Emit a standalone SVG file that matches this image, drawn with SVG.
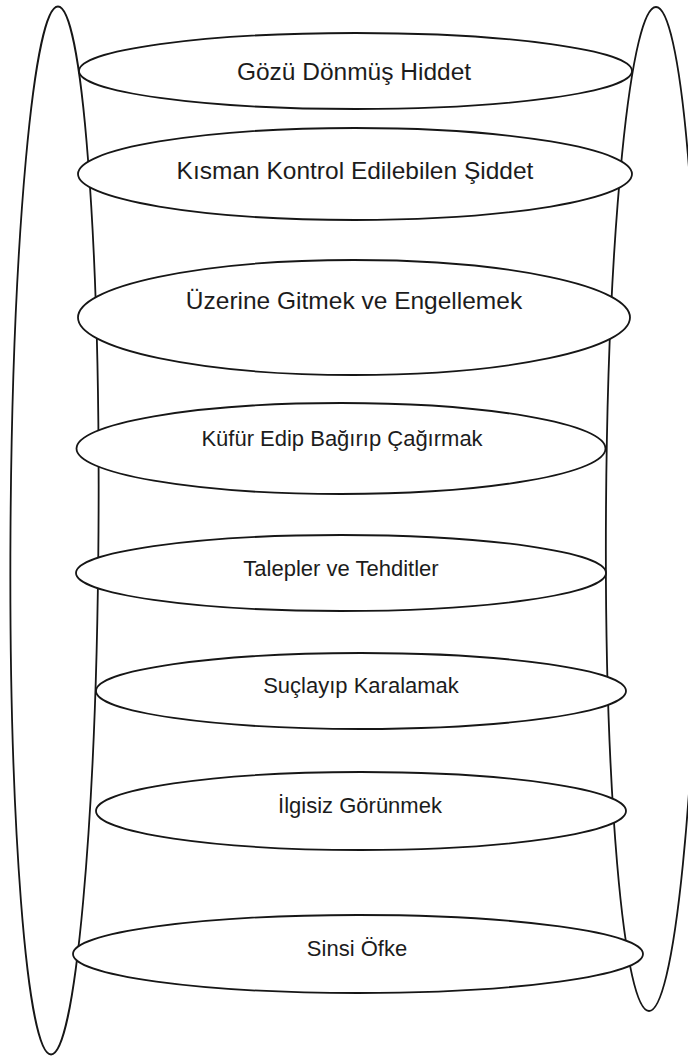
<svg xmlns="http://www.w3.org/2000/svg" width="688" height="1056" viewBox="0 0 688 1056">
  <style>
    .frame { fill: none; stroke: #161616; stroke-width: 1.8; }
    .node ellipse { fill: #ffffff; stroke: #161616; stroke-width: 1.8; }
    .node text { font-family: "Liberation Sans", Arial, Helvetica, sans-serif; fill: #1c1c1c; text-anchor: middle; }
    .big { font-size: 24.5px; }
    .small { font-size: 22px; }
  </style>
  <rect x="0" y="0" width="688" height="1056" fill="#ffffff"/>
  <g id="side-left">
    <ellipse class="frame" cx="54.5" cy="530.5" rx="44" ry="524" transform="rotate(0.38 54.5 530.5)"/>
  </g>
  <g id="side-right">
    <ellipse class="frame" cx="652.5" cy="509" rx="46.5" ry="502" transform="rotate(0.4 652.5 509)"/>
  </g>
  <g id="connectors"></g>
  <g id="n1" class="node">
    <ellipse cx="355.5" cy="71" rx="276.5" ry="38"/>
    <text class="big" x="354" y="80">Gözü Dönmüş Hiddet</text>
  </g>
  <g id="n2" class="node">
    <ellipse cx="355" cy="174" rx="277" ry="46"/>
    <text class="big" x="355" y="179">Kısman Kontrol Edilebilen Şiddet</text>
  </g>
  <g id="n3" class="node">
    <ellipse cx="354" cy="317.5" rx="276" ry="57.5"/>
    <text class="big" x="354" y="309">Üzerine Gitmek ve Engellemek</text>
  </g>
  <g id="n4" class="node">
    <ellipse cx="341" cy="448.5" rx="264.5" ry="45.5"/>
    <text class="small" x="342" y="446">Küfür Edip Bağırıp Çağırmak</text>
  </g>
  <g id="n5" class="node">
    <ellipse cx="341" cy="573" rx="265" ry="38"/>
    <text class="small" x="341" y="576">Talepler ve Tehditler</text>
  </g>
  <g id="n6" class="node">
    <ellipse cx="361" cy="691" rx="265" ry="38"/>
    <text class="small" x="361" y="693">Suçlayıp Karalamak</text>
  </g>
  <g id="n7" class="node">
    <ellipse cx="361" cy="811" rx="265" ry="39"/>
    <text class="small" x="360" y="813">İlgisiz Görünmek</text>
  </g>
  <g id="n8" class="node">
    <ellipse cx="358" cy="954" rx="285" ry="39"/>
    <text class="small" x="357" y="956">Sinsi Öfke</text>
  </g>
</svg>
